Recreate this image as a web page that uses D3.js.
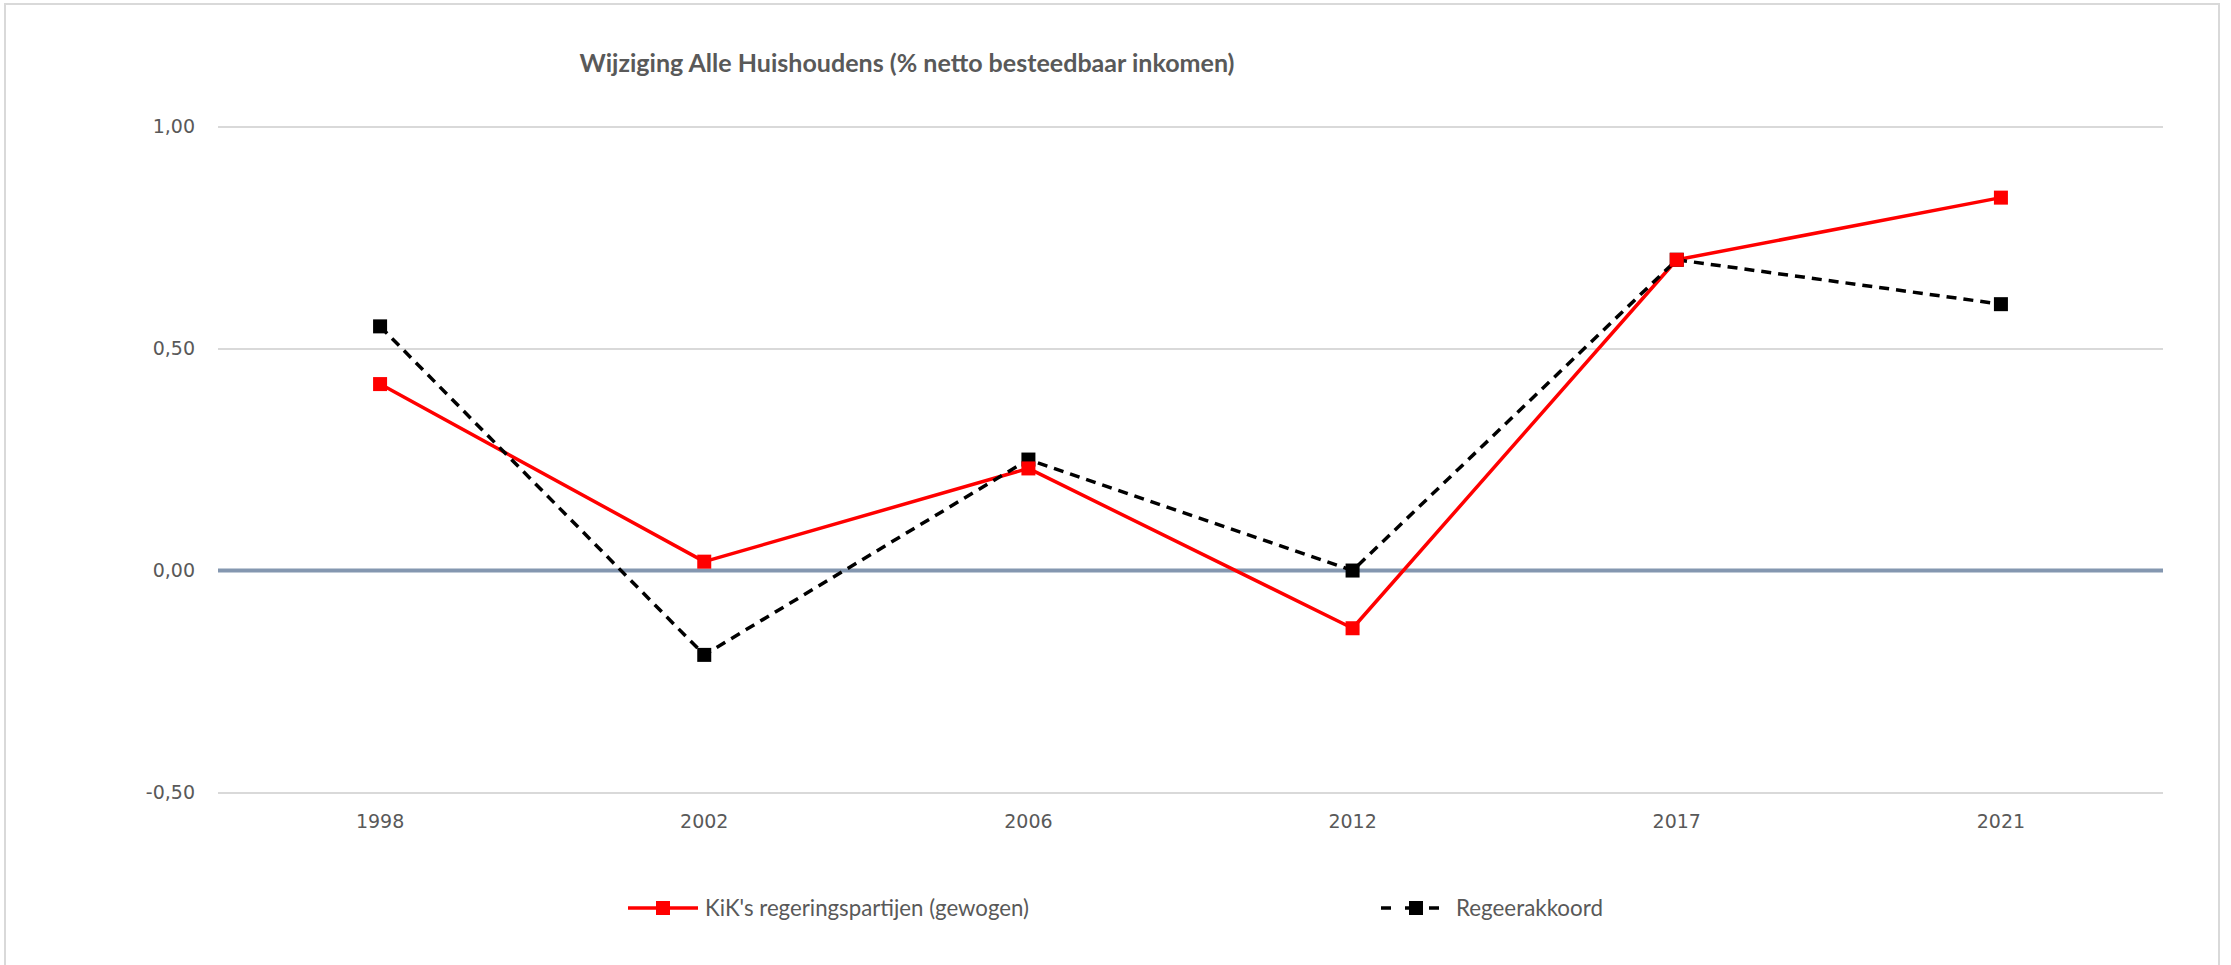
<!DOCTYPE html>
<html>
<head>
<meta charset="utf-8">
<script src="https://cdn.jsdelivr.net/npm/d3@7"></script>
<style>
html,body{margin:0;padding:0;background:#fff;}
svg{display:block;}
</style>
</head>
<body>
<svg id="chart" width="2231" height="965"></svg>
<script>
const title = "Wijziging Alle Huishoudens (% netto besteedbaar inkomen)";
const categories = ["1998", "2002", "2006", "2012", "2017", "2021"];
const seriesNames = ["KiK's regeringspartijen (gewogen)", "Regeerakkoord"];
const kikValues = [0.42, 0.02, 0.23, -0.13, 0.70, 0.84];
const regeerValues = [0.55, -0.19, 0.25, 0.00, 0.70, 0.60];
const yTicks = [-0.5, 0, 0.5, 1.0];

const svg = d3.select("#chart");
const plot = {left: 218, right: 2163, top: 126.6, bottom: 792.5};

// frame
svg.append("rect").attr("x", 5).attr("y", 4).attr("width", 2214).attr("height", 980)
  .attr("fill", "#fff").attr("stroke", "#d9d9d9").attr("stroke-width", 2);

const x = d3.scaleBand().domain(categories).range([plot.left, plot.right]).padding(0);
const y = d3.scaleLinear().domain([-0.5, 1.0]).range([plot.bottom, plot.top]);
const cx = c => x(c) + x.bandwidth() / 2;

function fitText(sel, targetW) {
  const node = sel.node();
  const fs = parseFloat(sel.attr("font-size"));
  const w = node.getComputedTextLength();
  if (w > 0) sel.attr("font-size", (fs * targetW / w).toFixed(2));
}

// gridlines
const yAxis = d3.axisLeft(y).tickValues(yTicks)
  .tickSize(-(plot.right - plot.left)).tickPadding(23)
  .tickFormat(d => d.toFixed(2).replace(".", ","));
const gy = svg.append("g").attr("transform", `translate(${plot.left},0)`).call(yAxis);
gy.select(".domain").remove();
gy.selectAll(".tick line").attr("stroke", "#d9d9d9").attr("stroke-width", 2);
gy.selectAll(".tick text").attr("fill", "#595959")
  .attr("font-family", "'DejaVu Sans', sans-serif").attr("font-size", 19);

// zero line
svg.append("line").attr("x1", plot.left).attr("x2", plot.right)
  .attr("y1", y(0)).attr("y2", y(0))
  .attr("stroke", "#8497b0").attr("stroke-width", 4);

// x labels
const xAxis = d3.axisBottom(x).tickSize(0).tickPadding(0);
const gx = svg.append("g").attr("transform", `translate(0,${plot.bottom + 22})`).call(xAxis);
gx.select(".domain").remove();
gx.selectAll(".tick text").attr("fill", "#595959")
  .attr("font-family", "'DejaVu Sans', sans-serif").attr("font-size", 19)
  .attr("dy", "0.71em");

// lines
const line = d3.line().x((d, i) => cx(categories[i])).y(d => y(d));
svg.append("path").datum(kikValues).attr("d", line)
  .attr("fill", "none").attr("stroke", "#ff0000").attr("stroke-width", 3.5)
  .attr("stroke-linejoin", "round");
svg.append("path").datum(regeerValues).attr("d", line)
  .attr("fill", "none").attr("stroke", "#000").attr("stroke-width", 3.5)
  .attr("stroke-dasharray", "10,7");

const ms = 14;
svg.append("g").selectAll("rect").data(regeerValues).join("rect")
  .attr("x", (d, i) => cx(categories[i]) - ms / 2).attr("y", d => y(d) - ms / 2)
  .attr("width", ms).attr("height", ms).attr("fill", "#000");
svg.append("g").selectAll("rect").data(kikValues).join("rect")
  .attr("x", (d, i) => cx(categories[i]) - ms / 2).attr("y", d => y(d) - ms / 2)
  .attr("width", ms).attr("height", ms).attr("fill", "#ff0000");

// title
const t = svg.append("text").attr("x", 907).attr("y", 72).attr("text-anchor", "middle")
  .attr("font-family", "Lato, sans-serif").attr("font-weight", "bold")
  .attr("font-size", 22).attr("fill", "#595959").text(title);
fitText(t, 655);

// legend
const legY = 908;
const legends = [
  {name: seriesNames[0], color: "#ff0000", dash: false, x1: 628, x2: 698, tx: 705, tw: 324},
  {name: seriesNames[1], color: "#000", dash: true, x1: 1381, x2: 1451, tx: 1456, tw: 147}
];
legends.forEach(l => {
  svg.append("line").attr("x1", l.x1).attr("x2", l.x2).attr("y1", legY).attr("y2", legY)
    .attr("stroke", l.color).attr("stroke-width", 3.5)
    .attr("stroke-dasharray", l.dash ? "10,14" : null);
  const mx = (l.x1 + l.x2) / 2;
  svg.append("rect").attr("x", mx - ms / 2).attr("y", legY - ms / 2)
    .attr("width", ms).attr("height", ms).attr("fill", l.color);
  const tt = svg.append("text").attr("x", l.tx).attr("y", legY).attr("dy", "0.35em")
    .attr("font-family", "Lato, sans-serif").attr("font-size", 20)
    .attr("fill", "#595959").text(l.name);
  fitText(tt, l.tw);
});
</script>
</body>
</html>
